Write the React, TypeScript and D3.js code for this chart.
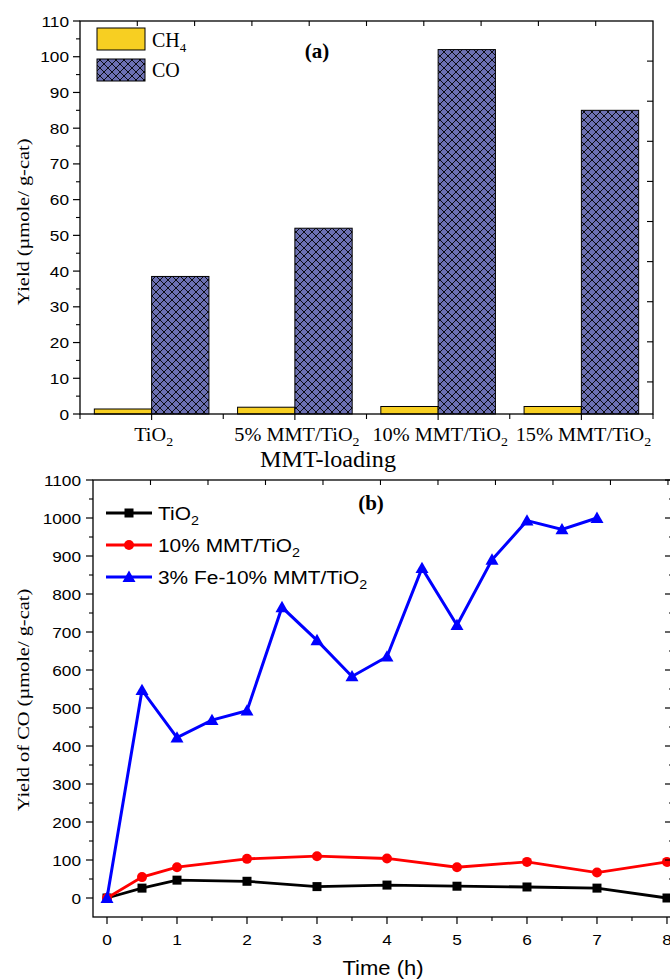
import React from "react";
import * as d3 from "d3";

// Panel (a): yields by MMT loading
const loadings = ["TiO2", "5% MMT/TiO2", "10% MMT/TiO2", "15% MMT/TiO2"];
const ch4Yield = [1.4, 1.9, 2.1, 2.1];
const coYield = [38.5, 52, 102, 85];
const yTicksA = [0, 10, 20, 30, 40, 50, 60, 70, 80, 90, 100, 110];

// Panel (b): CO yield over time
const timeTiO2 = [0, 0.5, 1, 2, 3, 4, 5, 6, 7, 8];
const coTiO2 = [0, 26, 47, 44, 30, 34, 31, 29, 26, 0];
const timeMMT = [0, 0.5, 1, 2, 3, 4, 5, 6, 7, 8];
const coMMT = [0, 55, 81, 103, 110, 104, 81, 95, 67, 95];
const timeFe = [0, 0.5, 1, 1.5, 2, 2.5, 3, 3.5, 4, 4.5, 5, 5.5, 6, 6.5, 7];
const coFe = [0, 547, 422, 468, 493, 765, 678, 583, 635, 868, 718, 890, 993, 970, 1000];
const yTicksB = [0, 100, 200, 300, 400, 500, 600, 700, 800, 900, 1000, 1100];
const xTicksB = [0, 1, 2, 3, 4, 5, 6, 7, 8];

const SERIF = "'Liberation Serif', 'Times New Roman', serif";
const SANS = "'Liberation Sans', Arial, sans-serif";

const YELLOW = "#f7cf22";
const SLATE = "#6c70b2";

// Text drawn with a horizontal stretch factor
function SText(props: any) {
  const { x, y, sx = 1, rotate = 0, children, ...rest } = props;
  return (
    <text
      transform={`translate(${x},${y}) rotate(${rotate}) scale(${sx},1)`}
      {...rest}
    >
      {children}
    </text>
  );
}

// Label with "2" subscript on trailing TiO2
function Chem({ label, sub = 13 }: { label: string; sub?: number }) {
  if (label.endsWith("TiO2")) {
    return (
      <>
        <tspan>{label.slice(0, -1)}</tspan>
        <tspan dy={5} fontSize={sub}>2</tspan>
      </>
    );
  }
  return <tspan>{label}</tspan>;
}

export default function App() {
  // ---------- Panel (a) scales ----------
  const aLeft = 80, aRight = 653, aTop = 21, aBottom = 414;
  const xA = d3.scaleLinear().domain([0.5, 4.5]).range([aLeft, aRight]);
  const yA = d3.scaleLinear().domain([0, 110]).range([aBottom, aTop]);
  const barW = xA(1) - xA(0.6); // each bar is 0.4 of a category width
  const topTicksA = d3.range(1, 10).map((k) => 0.5 + 0.4 * k);
  const rightA = d3.scaleLinear().domain([0, 9.8]).range([aTop, aBottom]);
  const rightTicksA = d3.range(1, 10);
  const minorA = d3.range(5, 110, 10);

  // ---------- Panel (b) scales ----------
  const bLeft = 93, bRight = 673, bTop = 480, bBottom = 917;
  const xB = d3.scaleLinear().domain([-0.2, 8.086]).range([bLeft, bRight]);
  const yB = d3.scaleLinear().domain([-50, 1100]).range([bBottom, bTop]);
  const topTicksB = d3.range(1, 11).map((k) => -0.2 + 0.8214 * k);
  const minorYB = d3.range(50, 1100, 100);
  const minorXB = d3.range(0.5, 8, 1);

  const line = d3
    .line<[number, number]>()
    .x((d) => xB(d[0]))
    .y((d) => yB(d[1]));

  const seriesB = [
    { name: "TiO2", t: timeTiO2, v: coTiO2, color: "#000000", marker: "square" },
    { name: "10% MMT/TiO2", t: timeMMT, v: coMMT, color: "#ff0000", marker: "circle" },
    { name: "3% Fe-10% MMT/TiO2", t: timeFe, v: coFe, color: "#0000ff", marker: "triangle" },
  ];

  const marker = (kind: string, cx: number, cy: number, color: string, key: any) => {
    if (kind === "square")
      return <rect key={key} x={cx - 4.5} y={cy - 4.5} width={9} height={9} fill={color} />;
    if (kind === "circle") return <circle key={key} cx={cx} cy={cy} r={5} fill={color} />;
    const s = 6.5;
    return (
      <path
        key={key}
        d={`M${cx},${cy - s} L${cx + s},${cy + s * 0.75} L${cx - s},${cy + s * 0.75} Z`}
        fill={color}
      />
    );
  };

  return (
    <svg
      width={670}
      height={980}
      style={{ position: "absolute", left: 0, top: 0, background: "#fff" }}
    >
      <defs>
        <pattern id="xhatch" patternUnits="userSpaceOnUse" width={8} height={8}>
          <rect width={8} height={8} fill={SLATE} />
          <path d="M0,0 L8,8 M8,0 L0,8" stroke="#000" strokeWidth={0.9} />
        </pattern>
      </defs>

      {/* ================= Panel (a) ================= */}
      <g>
        {loadings.map((c, i) => (
          <g key={c}>
            <rect
              x={xA(i + 1) - barW}
              y={yA(ch4Yield[i])}
              width={barW}
              height={yA(0) - yA(ch4Yield[i])}
              fill={YELLOW}
              stroke="#000"
              strokeWidth={1}
            />
            <rect
              x={xA(i + 1)}
              y={yA(coYield[i])}
              width={barW}
              height={yA(0) - yA(coYield[i])}
              fill="url(#xhatch)"
              stroke="#000"
              strokeWidth={1}
            />
          </g>
        ))}

        {/* frame */}
        <rect x={aLeft} y={aTop} width={aRight - aLeft} height={aBottom - aTop} fill="none" stroke="#000" strokeWidth={1.3} />

        {/* left axis ticks */}
        {yTicksA.map((t) => (
          <g key={t}>
            <line x1={aLeft - 7} x2={aLeft} y1={yA(t)} y2={yA(t)} stroke="#000" strokeWidth={1.2} />
            <SText x={aLeft - 11} y={yA(t) + 5.5} sx={1.15} fontFamily={SANS} fontSize={15} textAnchor="end">
              {t}
            </SText>
          </g>
        ))}
        {minorA.map((t) => (
          <line key={t} x1={aLeft - 4} x2={aLeft} y1={yA(t)} y2={yA(t)} stroke="#000" strokeWidth={1.1} />
        ))}

        {/* right axis ticks */}
        {rightTicksA.map((k) => (
          <line key={k} x1={aRight - 6} x2={aRight} y1={rightA(k)} y2={rightA(k)} stroke="#000" strokeWidth={1.1} />
        ))}

        {/* top axis ticks */}
        {topTicksA.map((k) => (
          <line key={k} x1={xA(k)} x2={xA(k)} y1={aTop} y2={aTop + 5} stroke="#000" strokeWidth={1.1} />
        ))}

        {/* bottom axis ticks */}
        {[1, 2, 3, 4].map((k) => (
          <line key={k} x1={xA(k)} x2={xA(k)} y1={aBottom} y2={aBottom + 6} stroke="#000" strokeWidth={1.1} />
        ))}
        {[0.5, 1.5, 2.5, 3.5, 4.5].map((k) => (
          <line key={k} x1={xA(k)} x2={xA(k)} y1={aBottom} y2={aBottom + 5} stroke="#000" strokeWidth={1.1} />
        ))}

        {loadings.map((c, i) => (
          <SText key={c} x={xA(i + 1) + 2} y={aBottom + 27} sx={1.07} fontFamily={SERIF} fontSize={19} textAnchor="middle">
            <Chem label={c} sub={13} />
          </SText>
        ))}

        <SText x={328} y={467} sx={1.05} fontFamily={SERIF} fontSize={23} textAnchor="middle">
          MMT-loading
        </SText>

        <SText x={29} y={222} rotate={-90} sx={1.2} fontFamily={SERIF} fontSize={17} textAnchor="middle">
          Yield (µmole/ g-cat)
        </SText>

        <SText x={317} y={58} fontFamily={SERIF} fontSize={21} fontWeight="bold" textAnchor="middle">
          (a)
        </SText>

        {/* legend */}
        <rect x={97} y={28} width={48} height={22} fill={YELLOW} stroke="#000" strokeWidth={1} />
        <rect x={97} y={59} width={48} height={22} fill="url(#xhatch)" stroke="#000" strokeWidth={1} />
        <SText x={152} y={47} fontFamily={SERIF} fontSize={20}>
          <tspan>CH</tspan>
          <tspan dy={5} fontSize={13}>4</tspan>
        </SText>
        <SText x={152} y={77} fontFamily={SERIF} fontSize={20}>
          CO
        </SText>
      </g>

      {/* ================= Panel (b) ================= */}
      <g>
        {seriesB.map((s) => {
          const pts = s.t.map((t, i) => [t, s.v[i]] as [number, number]);
          return (
            <g key={s.name}>
              <path d={line(pts) || ""} fill="none" stroke={s.color} strokeWidth={s.marker === "triangle" ? 3 : 2.8} strokeLinejoin="miter" />
              {pts.map((p, i) => marker(s.marker, xB(p[0]), yB(p[1]), s.color, i))}
            </g>
          );
        })}

        {/* frame */}
        <rect x={bLeft} y={bTop} width={bRight - bLeft} height={bBottom - bTop} fill="none" stroke="#000" strokeWidth={1.3} />

        {yTicksB.map((t) => (
          <g key={t}>
            <line x1={bLeft - 7} x2={bLeft} y1={yB(t)} y2={yB(t)} stroke="#000" strokeWidth={1.2} />
            <line x1={bRight - 8} x2={bRight} y1={yB(t)} y2={yB(t)} stroke="#000" strokeWidth={1.2} />
            <SText x={bLeft - 12} y={yB(t) + 5.5} sx={1.15} fontFamily={SANS} fontSize={15} textAnchor="end">
              {t}
            </SText>
          </g>
        ))}
        {minorYB.map((t) => (
          <g key={t}>
            <line x1={bLeft - 4} x2={bLeft} y1={yB(t)} y2={yB(t)} stroke="#000" strokeWidth={1.1} />
            <line x1={bRight - 4} x2={bRight} y1={yB(t)} y2={yB(t)} stroke="#000" strokeWidth={1.1} />
          </g>
        ))}

        {xTicksB.map((t) => (
          <g key={t}>
            <line x1={xB(t)} x2={xB(t)} y1={bBottom} y2={bBottom + 7} stroke="#000" strokeWidth={1.2} />
            <SText x={xB(t)} y={bBottom + 28} sx={1.15} fontFamily={SANS} fontSize={15} textAnchor="middle">
              {t}
            </SText>
          </g>
        ))}
        {minorXB.map((t) => (
          <line key={t} x1={xB(t)} x2={xB(t)} y1={bBottom} y2={bBottom + 4} stroke="#000" strokeWidth={1.1} />
        ))}

        {topTicksB.map((k) => (
          <line key={k} x1={xB(k)} x2={xB(k)} y1={bTop} y2={bTop + 5} stroke="#000" strokeWidth={1.1} />
        ))}

        <SText x={383} y={975} sx={1.1} fontFamily={SANS} fontSize={20} textAnchor="middle">
          Time (h)
        </SText>

        <SText x={29} y={700} rotate={-90} sx={1.2} fontFamily={SERIF} fontSize={17} textAnchor="middle">
          Yield of CO (µmole/ g-cat)
        </SText>

        <SText x={371} y={510} fontFamily={SERIF} fontSize={21} fontWeight="bold" textAnchor="middle">
          (b)
        </SText>

        {/* legend */}
        {seriesB.map((s, i) => {
          const ly = 513 + i * 32;
          return (
            <g key={s.name}>
              <line x1={106} x2={152} y1={ly} y2={ly} stroke={s.color} strokeWidth={3} />
              {marker(s.marker, 129, ly, s.color, "m")}
              <SText x={158} y={ly + 6.5} sx={1.1} fontFamily={SANS} fontSize={19}>
                <Chem label={s.name} sub={13} />
              </SText>
            </g>
          );
        })}
      </g>
    </svg>
  );
}
